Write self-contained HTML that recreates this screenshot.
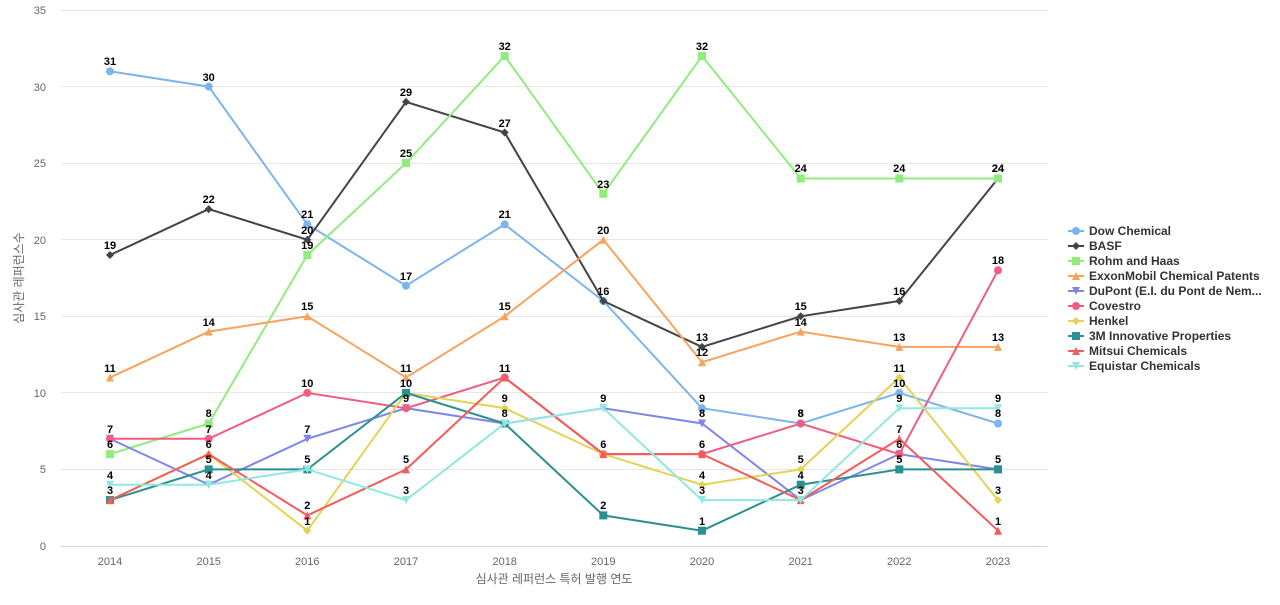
<!DOCTYPE html>
<html><head><meta charset="utf-8"><style>
body{margin:0;background:#fff;width:1280px;height:600px;overflow:hidden}
svg{font-family:"Liberation Sans","Noto Sans CJK KR",sans-serif}
.l text{font-size:11px;font-weight:bold;fill:#000;text-anchor:middle}
.ax{font-size:11px;fill:#666}
.lg text{font-size:12px;font-weight:bold;fill:#333}
</style></head><body>
<svg width="1280" height="600" xmlns="http://www.w3.org/2000/svg">
<defs>
<marker id="mc1" markerUnits="userSpaceOnUse" markerWidth="10" markerHeight="10" refX="5" refY="5"><circle cx="5" cy="5" r="4" fill="#7cb5ec"/></marker>
<marker id="md2" markerUnits="userSpaceOnUse" markerWidth="10" markerHeight="10" refX="5" refY="5"><path d="M5 1L9 5L5 9L1 5Z" fill="#434348"/></marker>
<marker id="ms3" markerUnits="userSpaceOnUse" markerWidth="10" markerHeight="10" refX="5" refY="5"><rect x="1" y="1" width="8" height="8" fill="#90ed7d"/></marker>
<marker id="mt4" markerUnits="userSpaceOnUse" markerWidth="10" markerHeight="10" refX="5" refY="5"><path d="M5 1L9 9L1 9Z" fill="#f7a35c"/></marker>
<marker id="mv5" markerUnits="userSpaceOnUse" markerWidth="10" markerHeight="10" refX="5" refY="5"><path d="M1 1L9 1L5 9Z" fill="#8085e9"/></marker>
<marker id="mc6" markerUnits="userSpaceOnUse" markerWidth="10" markerHeight="10" refX="5" refY="5"><circle cx="5" cy="5" r="4" fill="#f15c80"/></marker>
<marker id="md7" markerUnits="userSpaceOnUse" markerWidth="10" markerHeight="10" refX="5" refY="5"><path d="M5 1L9 5L5 9L1 5Z" fill="#e4d354"/></marker>
<marker id="ms8" markerUnits="userSpaceOnUse" markerWidth="10" markerHeight="10" refX="5" refY="5"><rect x="1" y="1" width="8" height="8" fill="#2b908f"/></marker>
<marker id="mt9" markerUnits="userSpaceOnUse" markerWidth="10" markerHeight="10" refX="5" refY="5"><path d="M5 1L9 9L1 9Z" fill="#f45b5b"/></marker>
<marker id="mv10" markerUnits="userSpaceOnUse" markerWidth="10" markerHeight="10" refX="5" refY="5"><path d="M1 1L9 1L5 9Z" fill="#91e8e1"/></marker>
</defs>
<g stroke="#e6e6e6" stroke-width="1">
<line x1="61" x2="1048" y1="10.5" y2="10.5"/><line x1="61" x2="1048" y1="86.5" y2="86.5"/><line x1="61" x2="1048" y1="163.5" y2="163.5"/><line x1="61" x2="1048" y1="239.5" y2="239.5"/><line x1="61" x2="1048" y1="316.5" y2="316.5"/><line x1="61" x2="1048" y1="392.5" y2="392.5"/><line x1="61" x2="1048" y1="469.5" y2="469.5"/>
</g>
<line x1="61" x2="1048" y1="546.5" y2="546.5" stroke="#ccd6eb"/>
<g class="ax" text-anchor="end">
<text x="46" y="14">35</text><text x="46" y="91">30</text><text x="46" y="167">25</text><text x="46" y="244">20</text><text x="46" y="320">15</text><text x="46" y="397">10</text><text x="46" y="473">5</text><text x="46" y="550">0</text>
</g>
<g class="ax" text-anchor="middle">
<text x="110" y="565">2014</text><text x="208.7" y="565">2015</text><text x="307.3" y="565">2016</text><text x="406" y="565">2017</text><text x="504.7" y="565">2018</text><text x="603.3" y="565">2019</text><text x="702" y="565">2020</text><text x="800.7" y="565">2021</text><text x="899.3" y="565">2022</text><text x="998" y="565">2023</text>
</g>
<text x="554" y="583" font-size="12" fill="#666" text-anchor="middle">심사관 레퍼런스 특허 발행 연도</text>
<text transform="translate(23,278) rotate(-90)" font-size="12" fill="#666" text-anchor="middle">심사관 레퍼런스수</text>
<g fill="none" stroke-width="2">
<polyline stroke="#7cb5ec" marker-start="url(#mc1)" marker-mid="url(#mc1)" marker-end="url(#mc1)" points="110,71.3 208.7,86.6 307.3,224.4 406,285.7 504.7,224.4 603.3,301 702,408.2 800.7,423.5 899.3,392.9 998,423.5"/>
<polyline stroke="#434348" marker-start="url(#md2)" marker-mid="url(#md2)" marker-end="url(#md2)" points="110,255 208.7,209.1 307.3,239.7 406,101.9 504.7,132.5 603.3,301 702,346.9 800.7,316.3 899.3,301 998,178.5"/>
<polyline stroke="#90ed7d" marker-start="url(#ms3)" marker-mid="url(#ms3)" marker-end="url(#ms3)" points="110,454.1 208.7,423.5 307.3,255 406,163.1 504.7,56 603.3,193.8 702,56 800.7,178.5 899.3,178.5 998,178.5"/>
<polyline stroke="#f7a35c" marker-start="url(#mt4)" marker-mid="url(#mt4)" marker-end="url(#mt4)" points="110,377.5 208.7,331.6 307.3,316.3 406,377.5 504.7,316.3 603.3,239.7 702,362.2 800.7,331.6 899.3,346.9 998,346.9"/>
<polyline stroke="#8085e9" marker-start="url(#mv5)" marker-mid="url(#mv5)" marker-end="url(#mv5)" points="110,438.8 208.7,484.7 307.3,438.8 406,408.2 504.7,423.5 603.3,408.2 702,423.5 800.7,500.1 899.3,454.1 998,469.4"/>
<polyline stroke="#f15c80" marker-start="url(#mc6)" marker-mid="url(#mc6)" marker-end="url(#mc6)" points="110,438.8 208.7,438.8 307.3,392.9 406,408.2 504.7,377.5 603.3,454.1 702,454.1 800.7,423.5 899.3,454.1 998,270.3"/>
<polyline stroke="#e4d354" marker-start="url(#md7)" marker-mid="url(#md7)" marker-end="url(#md7)" points="110,500.1 208.7,454.1 307.3,530.7 406,392.9 504.7,408.2 603.3,454.1 702,484.7 800.7,469.4 899.3,377.5 998,500.1"/>
<polyline stroke="#2b908f" marker-start="url(#ms8)" marker-mid="url(#ms8)" marker-end="url(#ms8)" points="110,500.1 208.7,469.4 307.3,469.4 406,392.9 504.7,423.5 603.3,515.4 702,530.7 800.7,484.7 899.3,469.4 998,469.4"/>
<polyline stroke="#f45b5b" marker-start="url(#mt9)" marker-mid="url(#mt9)" marker-end="url(#mt9)" points="110,500.1 208.7,454.1 307.3,515.4 406,469.4 504.7,377.5 603.3,454.1 702,454.1 800.7,500.1 899.3,438.8 998,530.7"/>
<polyline stroke="#91e8e1" marker-start="url(#mv10)" marker-mid="url(#mv10)" marker-end="url(#mv10)" points="110,484.7 208.7,484.7 307.3,469.4 406,500.1 504.7,423.5 603.3,408.2 702,500.1 800.7,500.1 899.3,408.2 998,408.2"/>
</g>
<g class="l">
<text x="110" y="65">31</text><text x="208.7" y="81">30</text><text x="307.3" y="218">21</text><text x="406" y="280">17</text><text x="504.7" y="218">21</text><text x="603.3" y="295">16</text><text x="702" y="402">9</text><text x="800.7" y="417">8</text><text x="899.3" y="387">10</text><text x="998" y="417">8</text>
<text x="110" y="249">19</text><text x="208.7" y="203">22</text><text x="307.3" y="234">20</text><text x="406" y="96">29</text><text x="504.7" y="127">27</text><text x="702" y="341">13</text><text x="800.7" y="310">15</text><text x="899.3" y="295">16</text><text x="998" y="172">24</text>
<text x="110" y="448">6</text><text x="208.7" y="417">8</text><text x="307.3" y="249">19</text><text x="406" y="157">25</text><text x="504.7" y="50">32</text><text x="603.3" y="188">23</text><text x="702" y="50">32</text><text x="800.7" y="172">24</text><text x="899.3" y="172">24</text><text x="998" y="172">24</text>
<text x="110" y="372">11</text><text x="208.7" y="326">14</text><text x="307.3" y="310">15</text><text x="406" y="372">11</text><text x="504.7" y="310">15</text><text x="603.3" y="234">20</text><text x="702" y="356">12</text><text x="800.7" y="326">14</text><text x="899.3" y="341">13</text><text x="998" y="341">13</text>
<text x="110" y="433">7</text><text x="208.7" y="479">4</text><text x="307.3" y="433">7</text><text x="406" y="402">9</text><text x="504.7" y="417">8</text><text x="603.3" y="402">9</text><text x="702" y="417">8</text><text x="800.7" y="494">3</text><text x="899.3" y="448">6</text><text x="998" y="463">5</text>
<text x="208.7" y="433">7</text><text x="307.3" y="387">10</text><text x="504.7" y="372">11</text><text x="603.3" y="448">6</text><text x="702" y="448">6</text><text x="800.7" y="417">8</text><text x="998" y="264">18</text>
<text x="110" y="494">3</text><text x="208.7" y="448">6</text><text x="307.3" y="525">1</text><text x="406" y="387">10</text><text x="504.7" y="402">9</text><text x="702" y="479">4</text><text x="800.7" y="463">5</text><text x="899.3" y="372">11</text><text x="998" y="494">3</text>
<text x="208.7" y="463">5</text><text x="307.3" y="463">5</text><text x="603.3" y="509">2</text><text x="702" y="525">1</text><text x="800.7" y="479">4</text><text x="899.3" y="463">5</text>
<text x="307.3" y="509">2</text><text x="406" y="463">5</text><text x="899.3" y="433">7</text><text x="998" y="525">1</text>
<text x="110" y="479">4</text><text x="406" y="494">3</text><text x="702" y="494">3</text><text x="899.3" y="402">9</text><text x="998" y="402">9</text>
</g>
<g class="lg">
<line x1="1068" x2="1084" y1="231" y2="231" stroke="#7cb5ec" stroke-width="2"/><circle cx="1076" cy="231" r="4" fill="#7cb5ec"/><text x="1089" y="235">Dow Chemical</text>
<line x1="1068" x2="1084" y1="246" y2="246" stroke="#434348" stroke-width="2"/><path d="M1076 242L1080 246L1076 250L1072 246Z" fill="#434348"/><text x="1089" y="250">BASF</text>
<line x1="1068" x2="1084" y1="261" y2="261" stroke="#90ed7d" stroke-width="2"/><rect x="1072" y="257" width="8" height="8" fill="#90ed7d"/><text x="1089" y="265">Rohm and Haas</text>
<line x1="1068" x2="1084" y1="276" y2="276" stroke="#f7a35c" stroke-width="2"/><path d="M1076 272L1080 280L1072 280Z" fill="#f7a35c"/><text x="1089" y="280">ExxonMobil Chemical Patents</text>
<line x1="1068" x2="1084" y1="291" y2="291" stroke="#8085e9" stroke-width="2"/><path d="M1072 287L1080 287L1076 295Z" fill="#8085e9"/><text x="1089" y="295">DuPont (E.I. du Pont de Nem...</text>
<line x1="1068" x2="1084" y1="306" y2="306" stroke="#f15c80" stroke-width="2"/><circle cx="1076" cy="306" r="4" fill="#f15c80"/><text x="1089" y="310">Covestro</text>
<line x1="1068" x2="1084" y1="321" y2="321" stroke="#e4d354" stroke-width="2"/><path d="M1076 317L1080 321L1076 325L1072 321Z" fill="#e4d354"/><text x="1089" y="325">Henkel</text>
<line x1="1068" x2="1084" y1="336" y2="336" stroke="#2b908f" stroke-width="2"/><rect x="1072" y="332" width="8" height="8" fill="#2b908f"/><text x="1089" y="340">3M Innovative Properties</text>
<line x1="1068" x2="1084" y1="351" y2="351" stroke="#f45b5b" stroke-width="2"/><path d="M1076 347L1080 355L1072 355Z" fill="#f45b5b"/><text x="1089" y="355">Mitsui Chemicals</text>
<line x1="1068" x2="1084" y1="366" y2="366" stroke="#91e8e1" stroke-width="2"/><path d="M1072 362L1080 362L1076 370Z" fill="#91e8e1"/><text x="1089" y="370">Equistar Chemicals</text>
</g>
</svg>
</body></html>
